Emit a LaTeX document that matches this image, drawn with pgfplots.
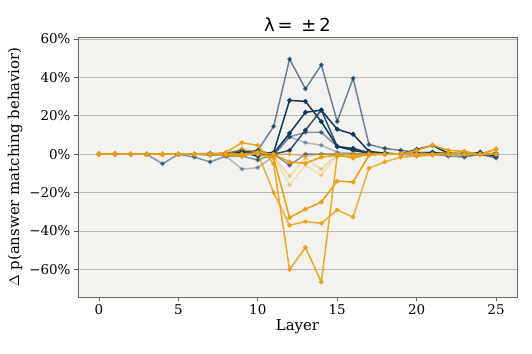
\documentclass[border=0pt]{standalone}
\usepackage{fontspec}
\setmainfont{DejaVu Serif}
\newfontfamily\dvsans{DejaVu Sans}
\usepackage{pgfplots}
\pgfplotsset{compat=1.18}

\definecolor{bgc}{RGB}{243,242,239}
\definecolor{navy}{RGB}{14,58,92}
\definecolor{gold}{RGB}{232,160,16}

\pgfplotsset{
  pos/.style={navy, line width=1.5pt, mark=*, mark size=1.6pt, opacity=#1},
  neg/.style={gold, line width=1.5pt, mark=*, mark size=1.6pt, opacity=#1},
}

\begin{document}
\begin{tikzpicture}
\path (-78bp,-57bp) rectangle (454bp,297bp);
\begin{axis}[
  scale only axis,
  width=439bp, height=260bp,
  xmin=-1.32, xmax=26.32,
  ymin=-74.3, ymax=61,
  axis background/.style={fill=bgc},
  axis line style={gray!80!black, line width=0.6pt},
  xtick={0,5,...,25},
  ytick={-60,-40,-20,0,20,40,60},
  yticklabels={−60\%,−40\%,−20\%,0\%,20\%,40\%,60\%},
  tick align=outside, xtick pos=bottom, ytick pos=left,
  major tick length=4bp,
  tick style={gray!70!black, line width=0.6pt},
  ymajorgrids,
  grid style={gray!55, line width=0.8pt},
  /pgf/number format/assume math mode=true,
  ticklabel style={font=\fontsize{13.5}{15}\selectfont},
  xlabel={Layer},
  ylabel={$\Delta$ p(answer matching behavior)},
  label style={font=\fontsize{15}{17}\selectfont},
  xlabel style={yshift=2bp},
  title={\dvsans λ\,=\, ±\,2},
  title style={font=\fontsize{18}{20}\selectfont, yshift=-4bp},
  clip=false,
]
% positive steering (blue)
\addplot[pos=0.6] coordinates {(0,0)(1,0)(2,0)(3,0)(4,0)(5,0)(6,0)(7,0.5)(8,0)(9,0.5)(10,2)(11,14.5)(12,49.5)(13,34)(14,46.5)(15,17)(16,39.5)(17,5)(18,3)(19,2)(20,1)(21,1)(22,0.5)(23,0.5)(24,0)(25,0)};
\addplot[pos=1] coordinates {(0,0)(1,0)(2,0)(3,0)(4,0)(5,0)(6,0)(7,0)(8,0)(9,0)(10,0)(11,1)(12,28)(13,27.5)(14,17)(15,4)(16,2)(17,0.5)(18,0.5)(19,0)(20,2.5)(21,4.5)(22,0.5)(23,0)(24,1)(25,-1)};
\addplot[pos=1] coordinates {(0,0)(1,0)(2,0)(3,0)(4,0)(5,0)(6,0)(7,0)(8,0)(9,1)(10,-1)(11,0.5)(12,10.9)(13,21.8)(14,22.9)(15,13)(16,10.4)(17,1.5)(18,0.5)(19,0)(20,0.5)(21,0)(22,0.5)(23,0)(24,0.5)(25,0)};
\addplot[pos=0.85] coordinates {(0,0)(1,0)(2,0)(3,0)(4,0)(5,0)(6,0)(7,0)(8,0.5)(9,2)(10,0)(11,0)(12,2)(13,12.5)(14,23)(15,4)(16,3)(17,0.5)(18,0)(19,0)(20,0)(21,1)(22,0)(23,0.5)(24,0)(25,0.5)};
\addplot[pos=0.5] coordinates {(0,0)(1,0)(2,0)(3,0)(4,-5)(5,0)(6,0)(7,-0.5)(8,0)(9,1)(10,2)(11,0)(12,9)(13,11.4)(14,11.4)(15,4)(16,3)(17,1)(18,0.5)(19,0)(20,0)(21,0)(22,0)(23,0)(24,0)(25,-1)};
\addplot[pos=0.3] coordinates {(0,0)(1,0)(2,0)(3,0)(4,0)(5,0)(6,0)(7,0)(8,-1)(9,-7.8)(10,-7)(11,-1)(12,9)(13,6)(14,4.7)(15,1)(16,0.5)(17,0)(18,0)(19,0)(20,-1)(21,0)(22,0)(23,-1)(24,0)(25,-1.5)};
\addplot[pos=0.5] coordinates {(0,0)(1,0)(2,0)(3,0)(4,0)(5,0)(6,-1.5)(7,-4)(8,-1)(9,-1)(10,-3)(11,0)(12,-5.7)(13,0)(14,0)(15,0)(16,0)(17,0)(18,0)(19,0)(20,0)(21,0)(22,-1)(23,-1.5)(24,0)(25,-2)};
% negative steering (gold)
\addplot[neg=1] coordinates {(0,0)(1,0)(2,0)(3,0)(4,0)(5,0)(6,0)(7,0)(8,0)(9,0)(10,0)(11,-2)(12,-33)(13,-28.6)(14,-24.9)(15,-14)(16,-14.5)(17,-0.5)(18,0)(19,0)(20,0)(21,0)(22,0)(23,0)(24,0)(25,0)};
\addplot[neg=0.8] coordinates {(0,0)(1,0)(2,0)(3,0)(4,0)(5,0)(6,0)(7,0)(8,0)(9,0)(10,0.5)(11,-20)(12,-37)(13,-35)(14,-36)(15,-29)(16,-32.7)(17,-7.3)(18,-4)(19,-1.5)(20,-1)(21,-0.5)(22,0)(23,0)(24,0)(25,0)};
\addplot[neg=0.9] coordinates {(0,0)(1,0)(2,0)(3,0)(4,0)(5,0)(6,0)(7,0)(8,1)(9,6)(10,4.6)(11,-5)(12,-60)(13,-48.5)(14,-66.5)(15,-1)(16,-1)(17,0)(18,0)(19,0)(20,0)(21,0)(22,0)(23,0)(24,0)(25,0)};
\addplot[neg=0.3] coordinates {(0,0)(1,0)(2,0)(3,0)(4,0)(5,0)(6,0)(7,0)(8,0)(9,0)(10,1)(11,-1)(12,-11.4)(13,-2)(14,-7.8)(15,0)(16,0)(17,0)(18,0)(19,0)(20,0)(21,0)(22,0)(23,0)(24,0)(25,0)};
\addplot[neg=0.25] coordinates {(0,0)(1,0)(2,0)(3,0)(4,0)(5,0)(6,0)(7,0)(8,0)(9,0)(10,0)(11,-1)(12,-16)(13,-5.7)(14,-11)(15,-0.5)(16,0)(17,0)(18,0)(19,0)(20,0)(21,0)(22,0)(23,0)(24,0)(25,0)};
\addplot[neg=1] coordinates {(0,0)(1,0)(2,0)(3,0)(4,0)(5,0)(6,0)(7,0)(8,-0.5)(9,-1)(10,1)(11,0)(12,-4)(13,-4.7)(14,-1.5)(15,-0.5)(16,-2)(17,0)(18,0)(19,0)(20,2)(21,4.7)(22,2)(23,1.5)(24,0)(25,2.5)};
\addplot[neg=0.5] coordinates {(0,0)(1,0)(2,0)(3,0)(4,0)(5,0)(6,0)(7,0)(8,0)(9,3)(10,1)(11,0)(12,0)(13,-1)(14,0)(15,0)(16,0)(17,0.5)(18,0)(19,0)(20,0)(21,0)(22,1)(23,0)(24,0)(25,3)};
\end{axis}
\end{tikzpicture}
\end{document}
